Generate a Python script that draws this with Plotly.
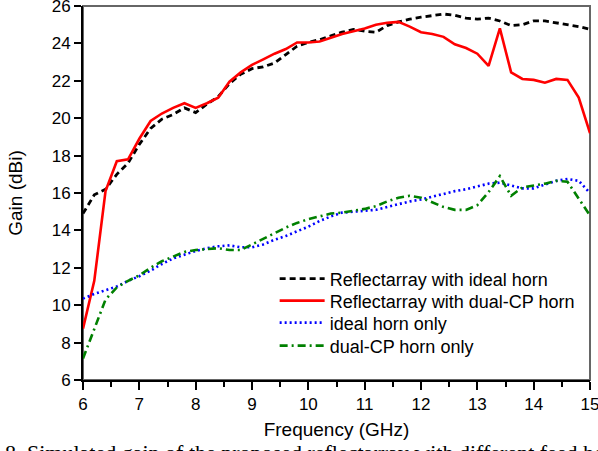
import plotly.graph_objects as go

# Frequency sweep (GHz), 0.2 GHz step
freq = [round(6.0 + 0.2 * i, 1) for i in range(46)]

# Simulated gain (dBi)
gain_ra_ideal = [14.9, 15.9, 16.2, 17.0, 17.6, 18.6, 19.45, 19.95, 20.2, 20.55,
                 20.3, 20.75, 21.15, 21.85, 22.35, 22.65, 22.75, 22.95, 23.4, 23.85,
                 24.05, 24.2, 24.4, 24.6, 24.75, 24.65, 24.6, 24.95, 25.15, 25.3,
                 25.4, 25.5, 25.57, 25.5, 25.35, 25.3, 25.35, 25.2, 24.95, 25.0,
                 25.2, 25.2, 25.1, 25.0, 24.9, 24.75]

gain_ra_dualcp = [8.75, 11.3, 16.1, 17.7, 17.8, 18.9, 19.85, 20.25, 20.55, 20.8,
                  20.55, 20.8, 21.1, 21.95, 22.45, 22.85, 23.15, 23.45, 23.7, 24.05,
                  24.05, 24.1, 24.3, 24.5, 24.65, 24.8, 25.0, 25.1, 25.15, 24.9,
                  24.6, 24.5, 24.35, 23.95, 23.75, 23.45, 22.8, 24.8, 22.45, 22.1,
                  22.05, 21.9, 22.1, 22.05, 21.1, 19.2]

gain_ideal_horn = [10.35, 10.6, 10.8, 11.0, 11.3, 11.55, 11.85, 12.2, 12.5, 12.7,
                   12.9, 13.05, 13.15, 13.2, 13.1, 13.1, 13.25, 13.5, 13.7, 13.95,
                   14.2, 14.5, 14.75, 14.95, 15.0, 15.05, 15.1, 15.25, 15.4, 15.55,
                   15.65, 15.8, 15.95, 16.1, 16.2, 16.35, 16.5, 16.55, 16.4, 16.25,
                   16.25, 16.45, 16.65, 16.75, 16.65, 16.0]

gain_dualcp_horn = [7.15, 8.7, 10.3, 10.95, 11.3, 11.6, 12.0, 12.35, 12.6, 12.85,
                    12.95, 13.0, 13.05, 12.95, 12.95, 13.25, 13.55, 13.85, 14.15, 14.4,
                    14.6, 14.75, 14.9, 14.95, 15.05, 15.15, 15.3, 15.55, 15.75, 15.85,
                    15.75, 15.5, 15.25, 15.1, 15.1, 15.35, 16.05, 16.9, 15.85, 16.3,
                    16.4, 16.5, 16.65, 16.6, 15.7, 14.8]

x_ticks = list(range(6, 16))
y_ticks = list(range(6, 27, 2))

FONT = "Arial, Liberation Sans, sans-serif"
LEGEND_FONT = dict(family=FONT, size=18, color="black")

series = [
    ("Reflectarray with ideal horn", gain_ra_ideal,
     dict(color="black", width=2.8, dash="6px,4px"), "legend"),
    ("Reflectarray with dual-CP horn", gain_ra_dualcp,
     dict(color="#ff0000", width=2.6), "legend2"),
    ("ideal horn only", gain_ideal_horn,
     dict(color="#0000ff", width=2.6, dash="2px,3px"), "legend3"),
    ("dual-CP horn only", gain_dualcp_horn,
     dict(color="#008000", width=2.6, dash="8px,4px,2px,4px"), "legend4"),
]

fig = go.Figure()
for name, values, line, leg in series:
    fig.add_trace(go.Scatter(x=freq, y=values, mode="lines", name=name,
                             line=line, legend=leg))

# gray frame around the plotting area
fig.add_shape(type="rect", xref="paper", yref="paper", x0=0, y0=0, x1=1, y1=1,
              line=dict(color="#666666", width=2), layer="below")

# one legend box per row so the rows sit tightly stacked
legend_rows = {"legend": 0.270, "legend2": 0.2115, "legend3": 0.1526, "legend4": 0.091}
legend_layout = {
    key: dict(x=0.378, y=ypos, xanchor="left", yanchor="middle",
              bgcolor="rgba(0,0,0,0)", borderwidth=0, font=LEGEND_FONT,
              itemwidth=45)
    for key, ypos in legend_rows.items()
}

fig.update_layout(
    width=598, height=451,
    margin=dict(l=83, r=8, t=6, b=71, autoexpand=False),
    paper_bgcolor="white", plot_bgcolor="white",
    font=dict(family=FONT, size=17, color="black"),
    showlegend=True,
    **legend_layout,
    xaxis=dict(range=[6, 15], tickvals=x_ticks, ticks="outside", ticklen=8,
               tickwidth=1.5, tickcolor="black", ticklabeloverflow="allow",
               automargin=False,
               minor=dict(dtick=0.5, ticks="outside", ticklen=5, tickwidth=1.5,
                          tickcolor="black"),
               showline=True, linecolor="black", linewidth=2,
               showgrid=False, zeroline=False,
               tickfont=dict(family=FONT, size=17),
               title=dict(text="Frequency (GHz)", font=dict(family=FONT, size=19),
                          standoff=9)),
    yaxis=dict(range=[6, 26], tickvals=y_ticks, ticks="outside", ticklen=7,
               tickwidth=1.5, tickcolor="black", ticklabeloverflow="allow",
               automargin=False,
               showline=True, linecolor="black", linewidth=2,
               showgrid=False, zeroline=False,
               tickfont=dict(family=FONT, size=17),
               title=dict(text="Gain (dBi)", font=dict(family=FONT, size=19),
                          standoff=24)),
)

# figure caption running below the chart
fig.add_annotation(text="8. Simulated gain of the proposed reflectarray with different feed horns",
                   xref="paper", yref="paper", x=-0.158, y=-0.154,
                   xanchor="left", yanchor="top", showarrow=False,
                   font=dict(family="Liberation Serif, Times New Roman, serif",
                             size=22, color="black"))

fig.write_html("out.html")
